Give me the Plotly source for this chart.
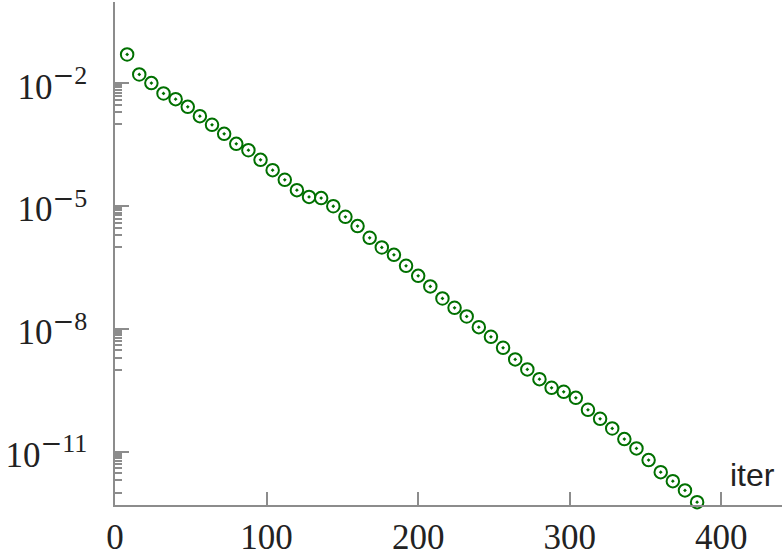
import plotly.graph_objects as go

# iteration number of every plotted point
iters = [8, 16, 24, 32, 40, 48, 56, 64, 72, 80, 88, 96,
         104, 112, 120, 128, 136, 144, 152, 160, 168, 176, 184, 192,
         200, 208, 216, 224, 232, 240, 248, 256, 264, 272, 280, 288,
         296, 304, 312, 320, 328, 336, 344, 352, 360, 368, 376, 384]

# residual
residual = [5.12e-2, 1.66e-2, 1.02e-2, 5.70e-3, 4.13e-3, 2.68e-3, 1.59e-3, 9.75e-4,
            5.87e-4, 3.34e-4, 2.34e-4, 1.36e-4, 7.62e-5, 4.42e-5, 2.47e-5, 1.69e-5,
            1.58e-5, 1.00e-5, 5.51e-6, 3.27e-6, 1.69e-6, 9.84e-7, 6.49e-7, 3.50e-7,
            1.99e-7, 1.10e-7, 5.58e-8, 3.30e-8, 2.03e-8, 1.11e-8, 6.44e-9, 3.47e-9,
            1.81e-9, 1.03e-9, 5.96e-10, 3.66e-10, 2.92e-10, 2.08e-10, 1.06e-10, 6.40e-11,
            3.72e-11, 2.04e-11, 1.21e-11, 6.27e-12, 3.18e-12, 1.92e-12, 1.14e-12, 5.89e-13]

x_ticks = [0, 100, 200, 300, 400]
y_exponents = [-2, -5, -8, -11]

axis_color = "#8c8c8c"
text_color = "#222222"
marker_color = "#007000"

y_tickvals = [10.0 ** e for e in y_exponents]
y_ticktext = [
    f"10<sup><span style='font-size:26px'>"
    f"<span style='font-family:DejaVu Serif'>\u2212</span>{-e}</span></sup>"
    for e in y_exponents
]
# minor ticks only in the decade just below each labelled one
y_minor = [m * 10.0 ** (e - 1) for e in y_exponents for m in range(1, 10)]

fig = go.Figure()

fig.add_trace(go.Scatter(
    x=iters,
    y=residual,
    mode='markers',
    marker=dict(
        symbol='circle-open-dot',
        size=12.5,
        color=marker_color,
        line=dict(width=2, color=marker_color)
    ),
    showlegend=False,
    cliponaxis=False
))

fig.update_xaxes(
    range=[0, 440],
    tickmode='array',
    tickvals=x_ticks,
    ticktext=[str(v) for v in x_ticks],
    ticks='inside',
    ticklen=13,
    tickwidth=1.5,
    tickcolor=axis_color,
    showline=True,
    linecolor=axis_color,
    linewidth=1.5,
    showgrid=False,
    zeroline=False,
    automargin=False,
    tickfont=dict(family="Liberation Serif", size=35, color=text_color),
    ticklabelstandoff=0
)

fig.update_yaxes(
    type='log',
    range=[-12.3, -0.01],
    tickmode='array',
    tickvals=y_tickvals,
    ticktext=y_ticktext,
    ticks='inside',
    ticklen=14,
    tickwidth=1.5,
    tickcolor=axis_color,
    minor=dict(
        tickmode='array',
        tickvals=y_minor,
        ticks='inside',
        ticklen=7,
        tickwidth=1.5,
        tickcolor=axis_color,
        showgrid=False
    ),
    showline=True,
    linecolor=axis_color,
    linewidth=1.5,
    showgrid=False,
    zeroline=False,
    automargin=False,
    tickfont=dict(family="Liberation Serif", size=35, color=text_color),
    ticklabelstandoff=19,
    ticklabelshift=3
)

fig.add_annotation(
    text="iter",
    xref='paper', yref='paper',
    x=0.919, y=0.06,
    xanchor='left', yanchor='middle',
    showarrow=False,
    font=dict(family="Liberation Sans", size=32, color=text_color)
)

fig.update_layout(
    width=783,
    height=549,
    margin=dict(l=115, r=1, t=2, b=44),
    plot_bgcolor='white',
    paper_bgcolor='white'
)

# page body has a default 8px margin, drop it so the figure fills the window
fig.write_html(
    "out.html",
    config=dict(displayModeBar=False),
    post_script="document.body.style.margin='0px';"
)
